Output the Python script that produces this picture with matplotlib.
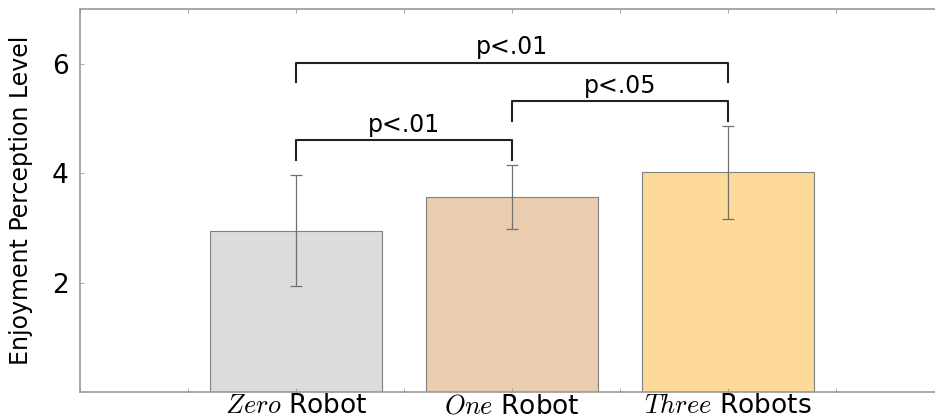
import matplotlib
matplotlib.use('Agg')
import matplotlib.pyplot as plt
import numpy as np

plt.rcParams['mathtext.fontset'] = 'cm'

# data
labels = [r'$\mathit{Zero}$ Robot', r'$\mathit{One}$ Robot', r'$\mathit{Three}$ Robots']
means = [2.95, 3.56, 4.02]
errs = [1.02, 0.58, 0.85]
colors = ['#DCDCDC', '#EACDAF', '#FDDA97']

# significance brackets: (left bar, right bar, height, text)
sig_pairs = [(0, 1, 4.6, 'p<.01'), (1, 2, 5.31, 'p<.05'), (0, 2, 6.02, 'p<.01')]
drop = 0.36

fig = plt.figure(figsize=(9.35, 4.2), dpi=100)
ax = fig.add_axes([80 / 935, 28 / 420, 864 / 935, 383 / 420])

x = np.arange(len(means))
ax.bar(x, means, width=0.8, color=colors, edgecolor='#808080', linewidth=0.8,
       yerr=errs, error_kw=dict(ecolor='#707070', elinewidth=0.9, capsize=4,
                                capthick=0.9))

for a, b, h, txt in sig_pairs:
    ax.plot([a, a, b, b], [h - drop, h, h, h - drop], color='#222222', lw=1.5)
    ax.text((a + b) / 2, h + 0.06, txt, ha='center', va='bottom', fontsize=17)

ax.set_xlim(-1, 3)
ax.set_ylim(0, 7)
ticks = np.arange(-1, 3.01, 0.5)
ax.set_xticks(ticks)
ax.set_xticklabels([labels[int(t)] if (t % 1 == 0 and 0 <= t < 3) else ''
                    for t in ticks], fontsize=19)
ax.set_yticks([2, 4, 6])
ax.tick_params(axis='y', labelsize=19, pad=8)
ax.tick_params(axis='x', pad=1)
ax.tick_params(direction='in', length=3, width=0.6, color='#999999',
               top=True, right=True)
ax.set_ylabel('Enjoyment Perception Level', fontsize=17, labelpad=14)
for s in ax.spines.values():
    s.set_color('#999999')
    s.set_linewidth(1.2)

fig.savefig('out.png', dpi=100)
